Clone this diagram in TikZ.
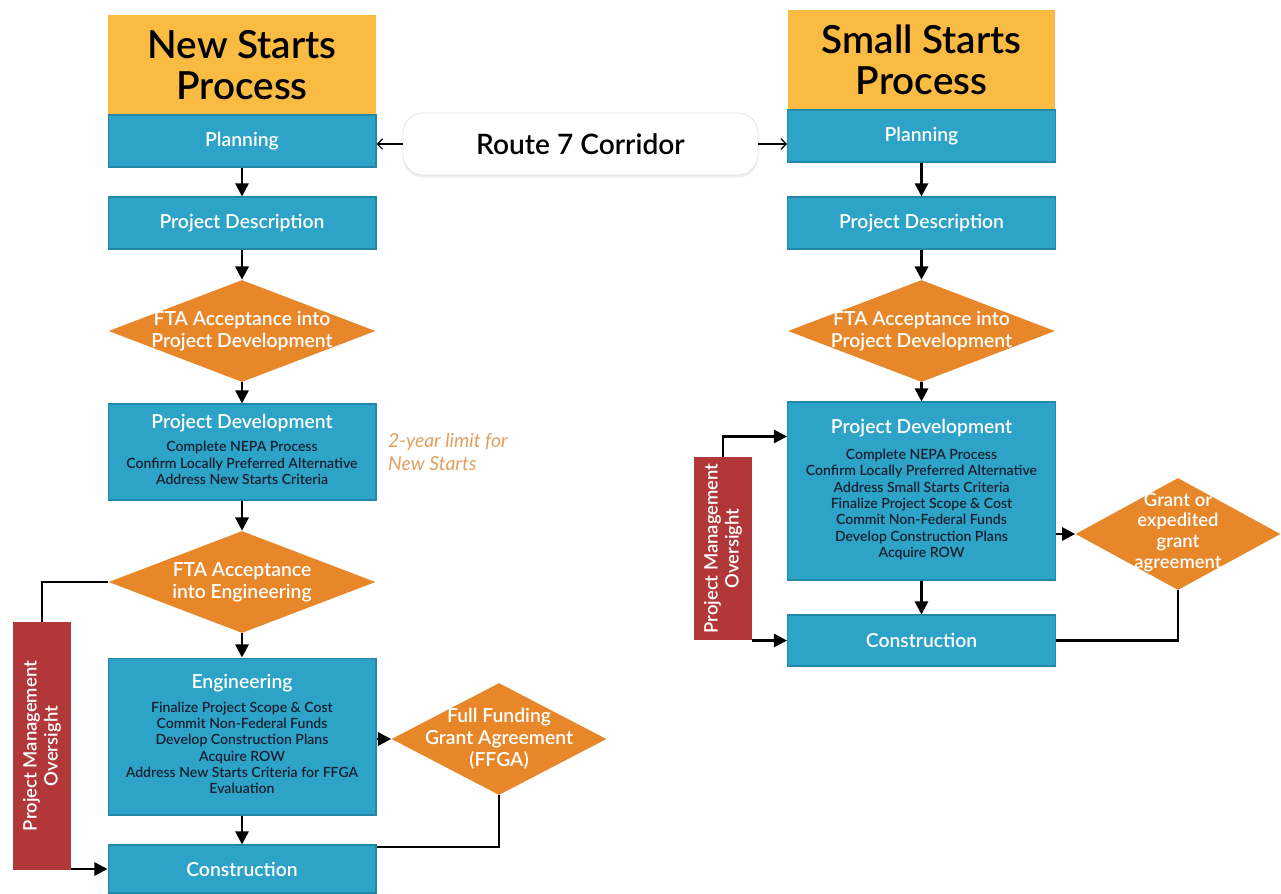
\documentclass[tikz,border=0pt]{standalone}
\usepackage{fontspec}
\setmainfont{Lato}
\newfontfamily\semib{Lato Semibold}
\usetikzlibrary{shapes.geometric,arrows.meta,shadows}
\definecolor{titleY}{RGB}{250,187,66}
\definecolor{boxB}{RGB}{44,163,199}
\definecolor{boxD}{RGB}{34,136,168}
\definecolor{diaO}{RGB}{232,135,42}
\definecolor{pmoR}{RGB}{178,55,56}
\definecolor{noteO}{RGB}{226,160,96}
\definecolor{ink}{RGB}{22,32,48}
\newcommand{\items}[1]{{\fontsize{8}{9.3}\selectfont\semib\color{ink}\begin{tabular}{@{}c@{}}#1\end{tabular}}}

\begin{document}
\begin{tikzpicture}[x=0.02cm,y=-0.02cm,
    title/.style={rectangle,fill=titleY,minimum width=5.36cm,minimum height=2cm,align=center,font=\fontsize{22}{23}\selectfont\semib},
    box/.style={rectangle,fill=boxB,draw=boxD,line width=0.6pt,minimum width=5.36cm,minimum height=1.04cm,text=white,align=center,font=\fontsize{11}{13}\selectfont\semib},
    dia/.style={diamond,fill=diaO,minimum width=5.34cm,minimum height=2.04cm,inner sep=0pt},
    diatext/.style={text=white,align=center,font=\fontsize{11}{12.5}\selectfont\semib},
    pmo/.style={rectangle,fill=pmoR,rotate=90,minimum height=1.16cm,text=white,align=center,font=\fontsize{10.5}{12}\selectfont\semib},
    note/.style={anchor=west,text=noteO,align=left,font=\fontsize{11}{13}\selectfont\itshape},
    route/.style={rectangle,rounded corners=0.4cm,fill=white,draw=black!12,minimum width=7.1cm,minimum height=1.24cm,font=\fontsize{16}{18}\selectfont\semib,drop shadow={opacity=0.12,shadow xshift=0pt,shadow yshift=-1.5pt}},
    arr/.style={-{Triangle[length=7.5pt,width=7.5pt]},line width=1.5pt},
    flow/.style={line width=1.5pt},
    thinarr/.style={-{Straight Barb[length=3pt,width=6pt]},line width=0.7pt}]
\fill[white] (0,0) rectangle (1281,893);
\useasboundingbox (0,0) rectangle (1281,893);

\node[title] (nsTitle) at (242,65) {New Starts\\Process};
\node[box] (nsPlan) at (242,141) {Planning};
\node[box] (nsDesc) at (242,223) {Project Description};
\node[dia] (nsAccPD) at (242,331) {};
\node[diatext] (nsAccPDt) at (nsAccPD) {FTA Acceptance into\\Project Development};
\node[box,minimum height=1.92cm] (nsPD) at (242,452) {Project Development\\[3.5pt]\items{Complete NEPA Process\\Confirm Locally Preferred Alternative\\Address New Starts Criteria}};
\node[note] (nsNote) at (382,452) {2-year limit for\\New Starts};
\node[dia] (nsAccEng) at (242,582) {};
\node[diatext] (nsAccEngt) at (nsAccEng) {FTA Acceptance\\into Engineering};
\node[box,minimum height=3.14cm] (nsEng) at (242,736.5) {Engineering\\[4pt]\items{Finalize Project Scope \& Cost\\Commit Non-Federal Funds\\Develop Construction Plans\\Acquire ROW\\Address New Starts Criteria for FFGA\\Evaluation}};
\node[box,minimum height=0.96cm] (nsCon) at (242,869) {Construction};
\node[dia,minimum width=4.3cm,minimum height=2.24cm] (nsFFGA) at (499,739) {};
\node[diatext] (nsFFGAt) at (nsFFGA) {Full Funding\\Grant Agreement\\(FFGA)};
\node[pmo,minimum width=4.96cm] (nsPMO) at (42,746) {Project Management\\Oversight};

\node[route] (route) at (580.5,144) {Route 7 Corridor};

\node[title] (ssTitle) at (921.5,60) {Small Starts\\Process};
\node[box] (ssPlan) at (921.5,136) {Planning};
\node[box] (ssDesc) at (921.5,223) {Project Description};
\node[dia] (ssAccPD) at (921.5,331) {};
\node[diatext] (ssAccPDt) at (ssAccPD) {FTA Acceptance into\\Project Development};
\node[box,minimum height=3.56cm] (ssPD) at (921.5,491) {Project Development\\[5pt]\items{Complete NEPA Process\\Confirm Locally Preferred Alternative\\Address Small Starts Criteria\\Finalize Project Scope \& Cost\\Commit Non-Federal Funds\\Develop Construction Plans\\Acquire ROW}};
\node[box,minimum height=1.02cm] (ssCon) at (921.5,640.5) {Construction};
\node[dia,minimum width=4.1cm,minimum height=2.24cm] (ssGrant) at (1178,534) {};
\node[diatext,font=\fontsize{10.5}{11.8}\selectfont\semib] (ssGrantt) at ([yshift=1pt]ssGrant) {Grant or\\expedited\\grant\\agreement};
\node[pmo,minimum width=3.66cm] (ssPMO) at (723,548.5) {Project Management\\Oversight};

\draw[thinarr] (route.west) -- (nsPlan.east |- route.west);
\draw[thinarr] (route.east) -- (ssPlan.west |- route.east);

\draw[arr] (nsPlan.south) -- (nsDesc.north);
\draw[arr] (nsDesc.south) -- (nsAccPD.north);
\draw[arr] (nsAccPD.south) -- (nsPD.north);
\draw[arr] (nsPD.south) -- (nsAccEng.north);
\draw[arr] (nsAccEng.south) -- (nsEng.north);
\draw[arr] (nsEng.south) -- (nsCon.north);
\draw[arr] (nsEng.east |- nsFFGA.west) -- (nsFFGA.west);
\draw[flow] (nsFFGA.south) |- ([yshift=-1.5pt]nsCon.north east);
\draw[flow] (nsPMO.east) |- (nsAccEng.west);
\draw[arr] (nsPMO.south west |- nsCon.west) -- (nsCon.west);

\draw[arr] (ssPlan.south) -- (ssDesc.north);
\draw[arr] (ssDesc.south) -- (ssAccPD.north);
\draw[arr] (ssAccPD.south) -- (ssPD.north);
\draw[arr] (ssPD.south) -- (ssCon.north);
\draw[arr] (ssPD.east |- ssGrant.west) -- (ssGrant.west);
\draw[flow] (ssGrant.south) |- (ssCon.east);
\draw[arr] (ssPMO.east) |- ([yshift=-0.7cm]ssPD.north west);
\draw[arr] (ssPMO.south west |- ssCon.west) -- (ssCon.west);
\end{tikzpicture}
\end{document}
